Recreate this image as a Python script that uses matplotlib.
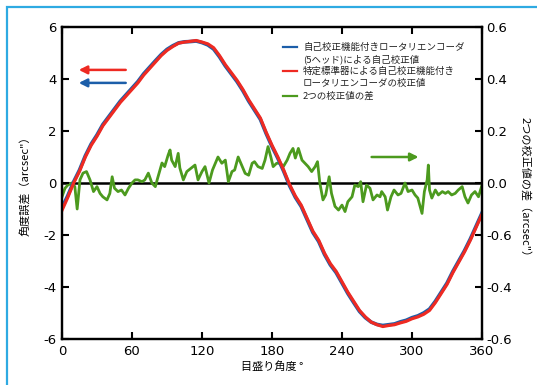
import matplotlib
matplotlib.use("Agg")
import matplotlib.pyplot as plt
from matplotlib.patches import Rectangle

plt.rcParams['font.family'] = ['DejaVu Sans', 'Noto Sans CJK JP']
plt.rcParams['axes.unicode_minus'] = False
JP = ['Noto Sans CJK JP', 'DejaVu Sans']

# 角度誤差 (arcsec)
deg = [0, 5, 10, 15, 20, 25, 30, 35, 40, 45, 50, 55, 60, 65, 70, 75, 80, 85,
       90, 95, 100, 105, 110, 115, 120, 125, 130, 135, 140, 145, 150, 155, 160,
       165, 170, 175, 180, 185, 190, 195, 200, 205, 210, 215, 220, 225, 230,
       235, 240, 245, 250, 255, 260, 265, 270, 275, 280, 285, 290, 295, 300,
       305, 310, 315, 320, 325, 330, 335, 340, 345, 350, 355, 360]
red = [-1.05, -0.55, 0.0, 0.45, 1.0, 1.45, 1.8, 2.2, 2.5, 2.8, 3.1, 3.35, 3.6,
       3.85, 4.15, 4.4, 4.65, 4.9, 5.1, 5.25, 5.38, 5.42, 5.45, 5.48, 5.42, 5.35,
       5.2, 4.9, 4.55, 4.25, 3.95, 3.6, 3.2, 2.85, 2.5, 1.95, 1.45, 1.0, 0.5,
       -0.05, -0.5, -0.85, -1.35, -1.85, -2.2, -2.7, -3.1, -3.4, -3.8, -4.2,
       -4.55, -4.9, -5.15, -5.35, -5.45, -5.52, -5.48, -5.45, -5.38, -5.32,
       -5.22, -5.15, -5.05, -4.9, -4.6, -4.25, -3.9, -3.45, -3.05, -2.65, -2.2,
       -1.7, -1.2]
blue = [-0.95, -0.48, 0.05, 0.5, 1.05, 1.5, 1.85, 2.25, 2.55, 2.85, 3.15, 3.4,
        3.65, 3.9, 4.2, 4.45, 4.7, 4.94, 5.14, 5.28, 5.39, 5.43, 5.44, 5.46,
        5.40, 5.31, 5.15, 4.85, 4.5, 4.2, 3.9, 3.55, 3.15, 2.8, 2.45, 1.9, 1.4,
        0.95, 0.45, -0.1, -0.55, -0.9, -1.4, -1.9, -2.25, -2.75, -3.15, -3.45,
        -3.85, -4.25, -4.6, -4.94, -5.18, -5.35, -5.44, -5.48, -5.45, -5.42,
        -5.34, -5.28, -5.18, -5.11, -5.0, -4.85, -4.55, -4.2, -3.85, -3.4, -3.0,
        -2.6, -2.15, -1.65, -1.15]

# 2つの校正値の差 (arcsec)
deg_d = [0, 2.6, 5, 8.4, 11, 13, 15.4, 18, 21, 24, 27, 30, 32.6, 35, 38.6, 41,
         43, 45, 48, 51, 54, 57, 60, 62.6, 65, 68.6, 71, 74, 77, 80, 82, 85.7,
         88, 91, 92.6, 94, 97, 99.6, 101, 104, 107, 111, 114, 116.6, 120, 122.6,
         126, 129, 133.7, 137, 140, 142.6, 145.7, 148, 151, 154, 157, 160, 163,
         165, 168, 171.6, 174, 176.6, 179, 181, 184, 187, 189.7, 193, 195.4,
         198, 200, 202.6, 205.7, 208, 211, 214, 217, 219, 221, 223.7, 226, 229,
         231, 234, 237, 240, 242.6, 245, 248.6, 251, 254, 256, 258, 261, 264,
         266.6, 270, 272.6, 274, 277, 279, 282, 284.6, 288, 290.6, 294, 296.6,
         300, 302.6, 305, 308.6, 310.6, 313, 314, 315, 317, 320, 322.6, 326,
         328.6, 331, 334, 337, 339.6, 343, 345.4, 348, 351, 354, 357, 360]
diff = [-0.053, -0.02, -0.008, 0.0, -0.014, -0.10, 0.012, 0.038, 0.044, 0.012,
        -0.033, -0.014, -0.04, -0.053, -0.065, -0.04, 0.024, -0.02, -0.033,
        -0.027, -0.046, -0.02, 0.0, 0.012, 0.012, 0.005, 0.012, 0.038, 0.0,
        -0.014, 0.019, 0.077, 0.063, 0.108, 0.127, 0.088, 0.063, 0.114, 0.058,
        0.012, 0.044, 0.058, 0.069, 0.012, 0.044, 0.063, 0.0, 0.05, 0.1, 0.076,
        0.088, 0.005, 0.044, 0.05, 0.1, 0.069, 0.037, 0.03, 0.076, 0.082, 0.063,
        0.056, 0.088, 0.14, 0.1, 0.063, 0.076, 0.076, 0.063, 0.088, 0.114,
        0.133, 0.096, 0.133, 0.088, 0.077, 0.063, 0.044, 0.063, 0.082, 0.0,
        -0.065, -0.046, 0.024, -0.04, -0.09, -0.104, -0.085, -0.11, -0.072,
        -0.053, -0.008, -0.014, 0.005, -0.072, -0.008, -0.02, -0.065, -0.046,
        -0.053, -0.033, -0.053, -0.104, -0.053, -0.027, -0.046, -0.04, 0.0,
        -0.033, -0.027, -0.046, -0.058, -0.117, -0.033, 0.012, 0.069, -0.027,
        -0.058, -0.027, -0.046, -0.033, -0.04, -0.033, -0.046, -0.04, -0.027,
        -0.014, -0.053, -0.077, -0.046, -0.033, -0.053, -0.008]

left_ticks = [-6, -4, -2, 0, 2, 4, 6]
right_ticks = [-0.6, -0.4, -0.2, 0.0, 0.2, 0.4, 0.6]
right_labels = ['-0.6', '-0.4', '-0.6', '0.0', '0.2', '0.4', '0.6']
x_ticks = [0, 60, 120, 180, 240, 300, 360]

c_blue = '#1c5ea9'
c_red = '#ee2a22'
c_green = '#4c9a1e'

fig = plt.figure(figsize=(5.37, 3.85), dpi=100)
fig.add_artist(Rectangle((7 / 537, -0.1), 2, 1.1 - 7 / 385, transform=fig.transFigure,
                         fill=False, ec='#2eaae2', lw=1.6))

ax = fig.add_axes([62 / 537, 46 / 385, 420 / 537, 312 / 385])
ax2 = ax.twinx()
ax.set_zorder(ax2.get_zorder() + 1)
ax.patch.set_visible(False)

ax2.axhline(0, color='black', lw=1.8, zorder=1)
ax2.plot(deg_d, diff, color=c_green, lw=2.0, zorder=2)
ax.plot(deg, blue, color=c_blue, lw=2.6)
ax.plot(deg, red, color=c_red, lw=2.3)

# 矢印
ax.annotate('', xy=(12, 4.35), xytext=(57, 4.35),
            arrowprops=dict(arrowstyle='-|>', color=c_red, lw=1.8, mutation_scale=12))
ax.annotate('', xy=(12, 3.85), xytext=(57, 3.85),
            arrowprops=dict(arrowstyle='-|>', color=c_blue, lw=1.8, mutation_scale=12))
ax.annotate('', xy=(308, 1.0), xytext=(263, 1.0),
            arrowprops=dict(arrowstyle='-|>', color=c_green, lw=1.8, mutation_scale=12))

ax.set_xlim(0, 360)
ax.set_ylim(-6, 6)
ax2.set_ylim(-0.6, 0.6)
ax.set_xticks(x_ticks)
ax.set_yticks(left_ticks)
ax2.set_yticks(right_ticks, right_labels)

for a in (ax, ax2):
    for s in a.spines.values():
        s.set_linewidth(1.6)
ax.tick_params(direction='in', length=5, width=1.5, labelsize=9.5, pad=4,
               top=True, right=False)
ax2.tick_params(direction='in', length=5, width=1.5, labelsize=9.5, pad=3)

# 凡例
entries = [(c_blue, ['自己校正機能付きロータリエンコーダ', '(5ヘッド)による自己校正値']),
           (c_red, ['特定標準器による自己校正機能付き', 'ロータリエンコーダの校正値']),
           (c_green, ['2つの校正値の差'])]
y = 0.936
for col, lines in entries:
    ax.plot([0.526, 0.560], [y, y], color=col, lw=1.6, transform=ax.transAxes)
    for ln in lines:
        ax.text(0.574, y, ln, transform=ax.transAxes, va='center', ha='left',
                fontsize=6.8, family=JP, color='#222222')
        y -= 0.039

ax.set_xlabel('目盛り角度 °', family=JP, fontsize=8, labelpad=3)
ax.set_ylabel('角度誤差（arcsec"）', family=JP, fontsize=8)
ax.yaxis.set_label_coords(-0.075, 0.5)
ax2.set_ylabel('2つの校正値の差（arcsec"）', family=JP, fontsize=8, rotation=270)
ax2.yaxis.set_label_coords(1.115, 0.48)

fig.savefig('out.png', dpi=100)
